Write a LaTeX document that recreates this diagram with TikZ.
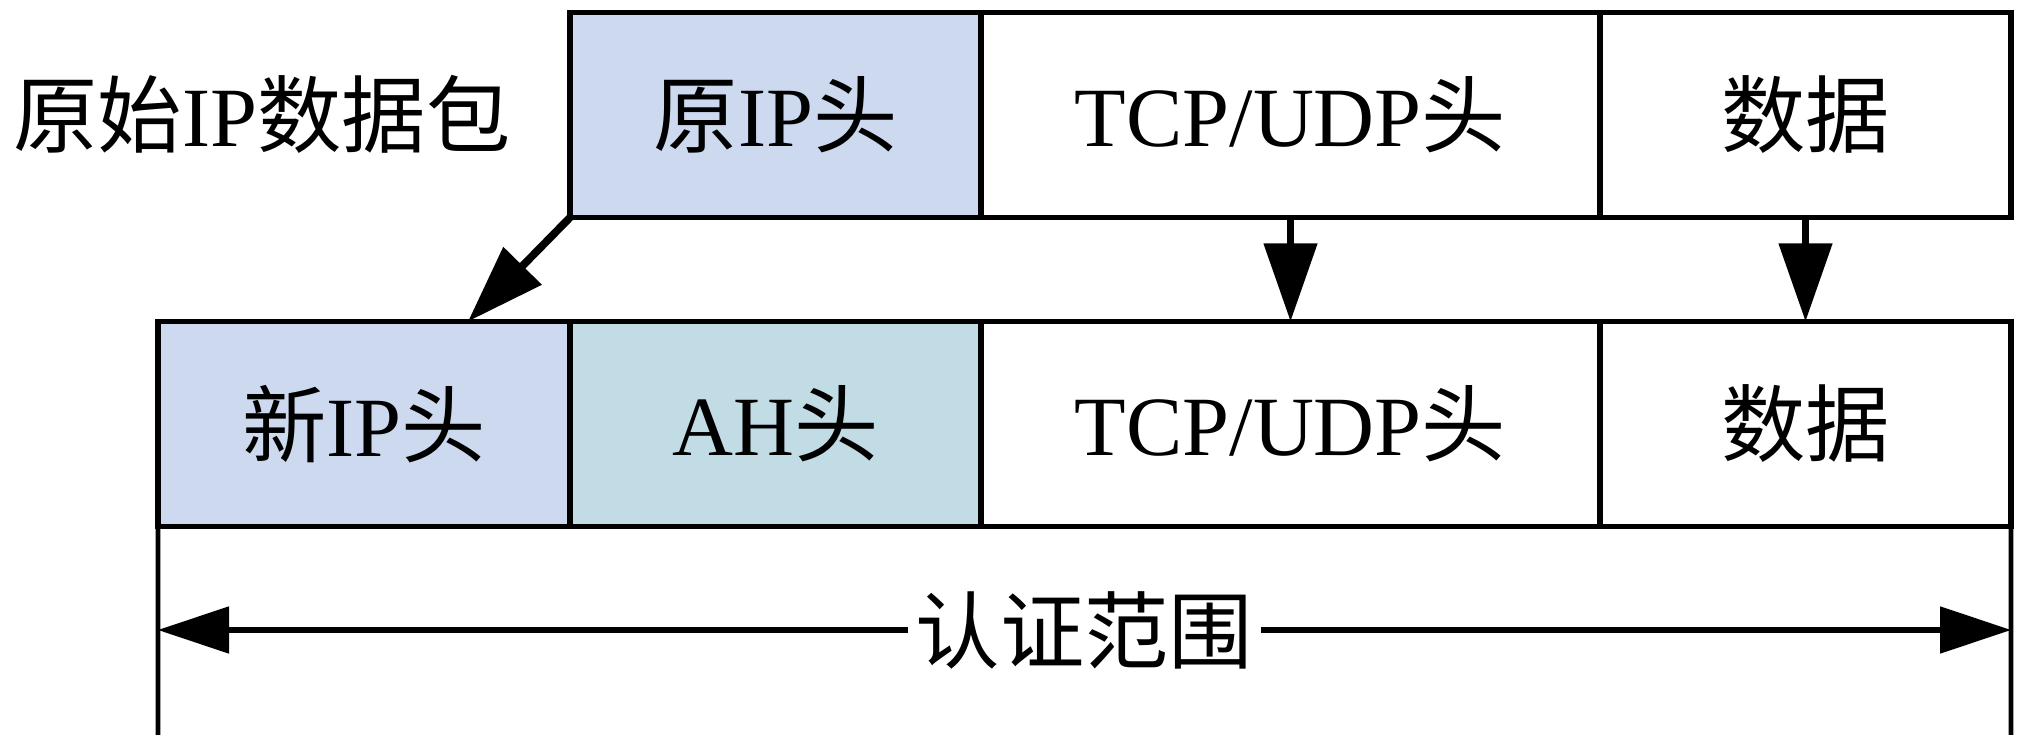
\documentclass[tikz,border=0pt]{standalone}
\usepackage{fontspec}
\setmainfont{Liberation Serif}
\newfontfamily\cjk{Noto Sans CJK SC}
\usetikzlibrary{arrows.meta,positioning}
\definecolor{iphdr}{RGB}{204,217,238}
\definecolor{ahhdr}{RGB}{194,220,230}

\begin{document}
\begin{tikzpicture}[>={Triangle[length=0.78cm,width=0.52cm]},
	cell/.style={rectangle, draw, line width=1.6pt, minimum height=2.05cm,
		inner sep=0pt, outer sep=0pt, font=\fontsize{24}{28}\selectfont},
	bigtext/.style={font=\fontsize{24}{28}\selectfont, inner sep=1pt},
	movearrow/.style={->, line width=2.2pt},
	scopearrow/.style={-{Triangle[length=0.71cm,width=0.46cm]}, line width=1.5pt}]

\useasboundingbox (0,0) rectangle (20.21,-7.43);

%original packet
\node[bigtext] (origlabel) at (2.62,-1.14) {{\cjk 原始}IP{\cjk 数据包}};
\node[cell, fill=iphdr, minimum width=4.11cm] (orighdr) at (7.755,-1.15) {{\cjk 原}IP{\cjk 头}};
\node[cell, fill=white, minimum width=6.19cm] (origtcp) at (12.905,-1.15) {TCP/UDP{\cjk 头}};
\node[cell, fill=white, minimum width=4.11cm] (origdata) at (18.055,-1.15) {{\cjk 数据}};

%new packet
\node[cell, fill=iphdr, minimum width=4.12cm] (newhdr) at (3.64,-4.24) {{\cjk 新}IP{\cjk 头}};
\node[cell, fill=ahhdr, minimum width=4.11cm] (ahhdr) at (7.755,-4.24) {AH{\cjk 头}};
\node[cell, fill=white, minimum width=6.19cm] (newtcp) at (12.905,-4.24) {TCP/UDP{\cjk 头}};
\node[cell, fill=white, minimum width=4.11cm] (newdata) at (18.055,-4.24) {{\cjk 数据}};

%authentication scope
\coordinate (scopeLtop) at (newhdr.south west);
\coordinate (scopeRtop) at (newdata.south east);
\coordinate (scopeLbot) at (1.58,-7.35);
\coordinate (scopeRbot) at (20.11,-7.35);
\coordinate (scopeLtip) at (1.58,-6.30);
\coordinate (scopeRtip) at (20.11,-6.30);
\node[bigtext, inner xsep=2pt] (scope) at (10.845,-6.30) {{\cjk 认证范围}};

%Paths
%original header to new header
\draw[movearrow] (orighdr.south west) -- ([xshift=1.04cm]newhdr.north);
%tcp/udp header down
\draw[movearrow] (origtcp.south) -- (newtcp.north);
%data down
\draw[movearrow] (origdata.south) -- (newdata.north);

%scope bounds
\draw[line width=1.3pt] (scopeLtop) -- (scopeLbot);
\draw[line width=1.3pt] (scopeRtop) -- (scopeRbot);
%scope arrows
\draw[scopearrow] (scope.west) -- (scopeLtip);
\draw[scopearrow] (scope.east) -- (scopeRtip);

\end{tikzpicture}
\end{document}
